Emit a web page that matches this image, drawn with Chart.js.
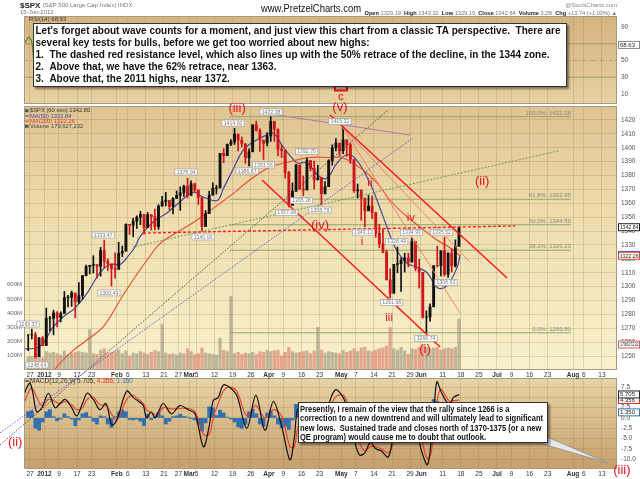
<!DOCTYPE html>
<html>
<head>
<meta charset="utf-8">
<title>$SPX 60 min - PretzelCharts</title>
<script src="https://cdn.jsdelivr.net/npm/chart.js"></script>
<style>
  html, body { margin: 0; padding: 0; background: #fff; }
  #wrap { position: relative; width: 640px; height: 479px; overflow: hidden; }
  #wrap canvas { position: absolute; left: 0; top: 0; }
</style>
</head>
<body>
<div id="wrap">
  <canvas id="rsiChart" width="640" height="479"></canvas>
  <canvas id="macdChart" width="640" height="479"></canvas>
  <canvas id="priceChart" width="640" height="479"></canvas>
</div>
<script>
// ---- data (x = trading day index, 0 = 27 Dec 2011) ----
const firstDay = -1;
const highs = [
  1265.4, 1269.4, 1267.1, 1263.5, 1264.1, 1284.6, 1278.7, 1283.1, 1282.0, 1281.9,
  1296.5, 1293.8, 1296.8, 1294.9, 1303.0, 1308.1, 1315.5, 1315.4, 1322.3, 1315.0,
  1328.3, 1333.5, 1320.1, 1316.3, 1324.4, 1332.0, 1329.2, 1345.3, 1344.4, 1349.2,
  1351.0, 1354.3, 1342.6, 1353.4, 1351.6, 1355.9, 1359.0, 1365.0, 1367.8, 1362.2,
  1364.2, 1368.9, 1371.9, 1373.1, 1378.0, 1376.2, 1374.5, 1369.6, 1364.3, 1354.9,
  1368.7, 1374.8, 1373.0, 1396.0, 1399.4, 1402.6, 1405.9, 1414.0, 1409.8, 1407.8,
  1402.9, 1399.2, 1416.6, 1419.2, 1413.7, 1405.5, 1410.9, 1422.4, 1419.0, 1413.4,
  1401.6, 1398.1, 1383.0, 1374.7, 1388.1, 1387.6, 1379.7, 1392.8, 1390.8, 1390.4,
  1387.4, 1378.5, 1375.6, 1391.4, 1402.1, 1406.6, 1403.1, 1415.3, 1405.5, 1403.1,
  1391.5, 1373.9, 1369.6, 1363.7, 1365.9, 1365.2, 1353.4, 1345.0, 1341.8, 1326.4,
  1312.9, 1316.0, 1328.5, 1320.7, 1324.1, 1324.2, 1334.9, 1332.4, 1319.7, 1310.3,
  1282.6, 1287.6, 1315.1, 1329.1, 1325.8, 1335.5, 1324.4, 1327.3, 1333.7, 1343.3
];
const lows = [
  1254.0, 1262.3, 1248.6, 1249.8, 1257.5, 1258.0, 1268.1, 1265.3, 1271.0, 1274.6,
  1281.0, 1285.4, 1285.8, 1277.6, 1287.9, 1290.9, 1307.8, 1309.2, 1309.9, 1306.1,
  1307.6, 1313.6, 1311.7, 1300.5, 1306.1, 1314.1, 1321.6, 1325.9, 1337.5, 1335.9,
  1341.9, 1344.6, 1337.8, 1344.3, 1340.8, 1340.8, 1341.2, 1358.0, 1358.1, 1355.5,
  1352.3, 1363.5, 1354.9, 1365.0, 1363.8, 1365.7, 1368.0, 1359.1, 1340.0, 1343.4,
  1352.6, 1365.9, 1366.7, 1371.1, 1389.2, 1394.3, 1401.5, 1402.4, 1397.7, 1400.6,
  1388.7, 1386.9, 1397.1, 1411.9, 1397.3, 1391.6, 1401.4, 1404.5, 1404.6, 1394.2,
  1392.9, 1378.2, 1357.4, 1358.6, 1368.7, 1369.9, 1365.4, 1369.6, 1383.3, 1370.3,
  1376.9, 1358.8, 1366.8, 1372.1, 1387.4, 1397.7, 1394.0, 1395.7, 1393.9, 1388.7,
  1367.9, 1363.9, 1347.8, 1343.1, 1354.6, 1348.9, 1335.5, 1328.0, 1324.3, 1304.9,
  1292.0, 1295.7, 1310.0, 1296.5, 1310.5, 1314.2, 1317.7, 1311.5, 1298.9, 1277.3,
  1266.7, 1275.1, 1285.5, 1314.1, 1307.8, 1307.7, 1306.6, 1310.5, 1314.1, 1329.2
];
const closes = [
  1265.3, 1265.4, 1249.6, 1263.0, 1257.6, 1277.1, 1277.3, 1281.1, 1277.8, 1280.7,
  1292.1, 1292.5, 1295.5, 1289.1, 1293.7, 1308.0, 1314.5, 1315.4, 1316.0, 1314.7,
  1326.1, 1318.4, 1316.3, 1313.0, 1312.4, 1324.1, 1325.5, 1344.9, 1344.3, 1347.1,
  1350.0, 1352.0, 1342.6, 1351.8, 1350.5, 1343.2, 1358.0, 1361.2, 1362.2, 1357.7,
  1363.5, 1365.7, 1367.6, 1372.2, 1365.7, 1374.1, 1369.6, 1364.3, 1343.4, 1352.6,
  1365.9, 1370.9, 1371.1, 1396.0, 1394.3, 1402.6, 1404.2, 1409.8, 1405.5, 1402.9,
  1392.8, 1397.1, 1416.5, 1412.5, 1405.5, 1403.3, 1408.5, 1419.0, 1413.4, 1399.0,
  1398.1, 1382.2, 1358.6, 1368.7, 1387.6, 1370.3, 1369.6, 1390.8, 1385.1, 1376.9,
  1378.5, 1366.9, 1372.0, 1390.7, 1400.0, 1403.4, 1397.9, 1405.8, 1402.3, 1391.6,
  1369.1, 1369.6, 1363.7, 1354.6, 1358.0, 1353.4, 1338.4, 1330.7, 1324.8, 1304.9,
  1295.2, 1316.0, 1316.6, 1318.9, 1320.7, 1317.8, 1332.4, 1313.3, 1310.3, 1278.0,
  1278.2, 1285.5, 1315.1, 1315.0, 1325.7, 1308.9, 1324.2, 1314.9, 1329.1, 1342.8
];
const volumes = [ // millions, typical hourly bar of the day
  90, 95, 110, 100, 85, 130, 120, 125, 115, 105,
  135, 110, 120, 125, 130, 125, 120, 285, 115, 110,
  140, 150, 120, 125, 130, 140, 115, 135, 100, 120,
  115, 130, 120, 110, 125, 140, 130, 320, 120, 110,
  115, 105, 120, 115, 150, 130, 110, 115, 155, 120,
  115, 110, 105, 225, 140, 130, 520, 115, 125, 110,
  120, 115, 125, 110, 130, 125, 140, 130, 135, 140,
  100, 125, 160, 130, 120, 125, 130, 135, 115, 135,
  300, 140, 120, 130, 125, 120, 115, 140, 125, 135,
  150, 130, 155, 160, 135, 130, 140, 150, 155, 170,
  300, 150, 140, 160, 135, 110, 150, 145, 160, 175,
  160, 150, 155, 160, 140, 150, 155, 150, 160, 360
];
const macdHist = [
  1.5, 1.7, -2.5, -3, -1, 1.5, 2, 0.3, -0.7, -0.3,
  1, 0.3, -0.3, -1.9, -0.5, 1, 1.3, 0.3, -0.8, -1.5,
  0.5, 0.3, -1.5, -2.3, 0.3, 1.5, 1.9, 1.5, -0.4, -0.5,
  -0.3, -0.8, -1.9, 0.9, -0.4, 0.3, 1.3, 0.5, -1.5, -0.8,
  0.3, 0.5, 0.9, 0.4, 0.2, -0.2, -0.5, -1.5, -3.2, -1.2,
  2.7, 2.5, 0.6, 1.9, 1.2, 0.2, -0.3, -1, -2.2, -2.5,
  -1.6, 1.5, 2.1, 1, -1.5, -2, 1.2, 1.7, 0.5, -1.5,
  -2.4, -2, -2.8, -0.5, 3.3, 3, 0.8, 1, -0.5, -1,
  -0.6, -0.8, 1, 1.5, 1.8, 1.2, -0.5, 0.3, -1.5, -2,
  -3, -2.5, -1.5, -0.5, 1, 0.8, -0.5, -1, -0.5, -0.8,
  -1, 2, 1.5, 1.5, 0.5, 0.3, 1, -1.5, -1.5, -2.5,
  -1.5, 1, 4.5, 4, -0.5, -1, -0.5, 0.5, 1, 1.35
];

const ma50Days = [-1.6, 2.8, 6.4, 9.1, 12.4, 15.7, 19.3, 22.1, 24.9, 26.8, 29, 30.4, 34, 37.8, 41.4,
  45, 47.8, 51.7, 53.3, 56, 58.8, 61.5, 64.4, 67.1, 69.9, 72.4, 73.8, 76.5, 79.6, 82,
  84.8, 87.6, 90.3, 93.9, 95.9, 98.6, 100.8, 104.1, 106.9, 109.7, 112.7, 115.2, 118, 118.8];
const ma50Vals = [1255, 1257, 1271, 1278, 1284.6, 1295, 1310, 1316, 1316, 1321, 1328.6, 1336, 1346.6, 1353, 1361,
  1368, 1364.6, 1362, 1370, 1384, 1398, 1404, 1408, 1410.6, 1400.6, 1392.6, 1389, 1389, 1380, 1378,
  1389, 1395, 1391, 1374.6, 1362, 1343, 1328.6, 1317, 1314, 1310, 1299, 1301, 1314, 1322.84];
const ma200Days = [4.5, 11, 15.7, 20.2, 24.9, 28.5, 32.3, 35.9, 40.6, 45, 48.9, 52.5, 56.1, 60.8,
  66.3, 71.8, 77.3, 82.9, 86.5, 92, 95.9, 99.4, 103, 107.7, 112.4, 116, 118.8];
const ma200Vals = [1234, 1252, 1261.6, 1271, 1290.4, 1305, 1319, 1331, 1339, 1346, 1353, 1360, 1367, 1377,
  1386, 1390, 1393, 1393, 1392.6, 1384, 1374.6, 1362.4, 1353, 1343, 1333.6, 1328, 1322.26];

const rsiDays = [-1.6, -1.0, -0.3, 0.5, 1.5, 3, 4.5, 6, 9, 12, 15, 18, 20.5, 22, 26, 30, 35, 40, 43, 47.5,
  50, 53, 56, 59, 62, 64.5, 66.5, 71, 73.5, 76.5, 80, 84, 86.5, 89.5, 92.5, 96, 99, 101.5, 105.5, 108.5,
  109.5, 112, 114.5, 116.5, 118.8];
const rsiVals = [70, 74, 78, 72, 38, 52, 70, 62, 68, 55, 72, 60, 65, 40, 72, 66, 62, 60, 65, 28,
  62, 78, 72, 45, 70, 45, 68, 22, 58, 62, 40, 66, 62, 32, 30, 33, 25, 50, 60, 28,
  25, 62, 52, 54, 68.63];

const macdDays = [-1.66, -0.8, 0, 0.8, 1.85, 3.3, 5.1, 6.9, 8.3, 9.7, 11.5, 12.9, 14.5, 15.8, 17.5,
  19.3, 21, 22.6, 24, 26.7, 28.5, 30, 31.3, 32.2, 33.5, 34.5, 35.5, 36.8, 39.1, 41.4,
  43.7, 45.6, 47.9, 49.5, 50.6, 52, 53.4, 55, 57.1, 59.9, 62.4, 64.9, 67.2, 69.5, 71.8,
  73, 74.1, 76.5, 78, 80, 82, 84.3, 86.5, 88, 89.5, 91, 92.5, 94, 95.5, 97,
  99, 100.5, 102, 104, 105.5, 107, 108.5, 109.8, 110.8, 111.6, 112.4, 113.5, 115, 116, 117, 118.6];
const macdVals = [5.6, 7.5, 8.5, 6, 1.5, 2.5, 6, 2.5, 3.5, 4.5, 2.5, 0.5, 3.5, 6, 4.5,
  2, 3.5, -1.7, -0.5, 6.5, 5, 4, 3, 0, 1.5, 0, 1.5, 3.5, 1, 3,
  2, 1, -7, -2, 4.2, 5, 8, 7.5, 5.5, -2.5, 5.5, -3, 4, -2, -10.2,
  -5, 2.5, 3, 0.5, -2, 2, 6.8, 5, 1, -5, -9, -8.5, -6, -7.5, -8,
  -9.5, -4, -2, -2.5, 0.5, -4, -9, -11.4, -6, 2, 8.8, 6.5, 4, 3.5, 5, 5.705];
const signalVals = [3.5, 5.5, 7, 7, 5, 3, 4.5, 4, 3.5, 4, 3.2, 2, 2.5, 4.5, 5,
  3.2, 3, 0.8, -0.5, 4.5, 5.5, 4.5, 3.5, 2, 1.2, 0.8, 1, 2.5, 2.2, 2.3,
  2.3, 1.5, -4, -4, 0, 3.5, 6.5, 7.5, 6.5, 0.5, 3, 0, 2, 0.5, -7,
  -7, -2, 2, 1.5, -1, 0.5, 5, 5.5, 3, -1.5, -6, -8, -7, -7, -7.5,
  -8.5, -6, -3.5, -2.5, -0.5, -2.5, -6.5, -10, -8.5, -3, 4, 7, 5, 4, 4.2, 4.356];

const tickDays = [0, 4, 8, 13, 17, 24, 27, 32, 37, 41, 44, 46, 51, 56, 61, 66, 70, 75, 80, 86, 90, 95,
  100, 105, 108, 114, 119, 124, 129, 133, 138, 143, 150, 153, 158];
const tickLabels = ['27', '2012', '9', '17', '23', 'Feb', '6', '13', '21', '27', 'Mar', '5', '12', '19', '26',
  'Apr', '9', '16', '23', 'May', '7', '14', '21', '29', 'Jun', '11', '18', '25', 'Jul', '9', '16', '23',
  'Aug', '6', '13'];
const priceTicks = [1250, 1260, 1270, 1280, 1290, 1300, 1310, 1320, 1330, 1340, 1350, 1360, 1370, 1380,
  1390, 1400, 1410, 1420];
const volTicks = [100, 200, 300, 400, 500, 600];
const rsiTicks = [10, 30, 50, 70, 90];
const macdTicks = [-10, -7.5, -5, -2.5, 0, 2.5, 5, 7.5];

// fibonacci retrace of the Apr-Jun decline
const fibNames = ['100.0%', '61.8%', '50.0%', '38.2%', '0.0%'];
const fibLevels = [1422.38, 1362.95, 1344.59, 1326.23, 1266.80];
const fibSpan = [55.2, 149.4];

// trend lines, [day, price] end points
const lineBlackDot = [[-8.29, 1186.0], [98.9, 1427.2]];
const lineBlueDot = [[-8.29, 1194.7], [105.8, 1407.0]];
const lineGreenDot = [[28.45, 1328.6], [145.9, 1397.7]];
const lineRedDash = [[31.2, 1338.6], [134.0, 1343.7]];
const linePurple = [[66.6, 1424.3], [105.0, 1409.2]];
const lineChanTop = [[82.9, 1423.6], [131.8, 1306.2]];
const lineChanLow = [[64.1, 1376.8], [113.3, 1256.6]];
const lineFanA = [[86.5, 1414.2], [118.8, 1281.0]];
const lineFanB = [[86.5, 1414.2], [121.5, 1317.8]];

// swing-point tags [day, price, text]
const priceTags = [
  [-0.55, 1273.1, '1269.37'], [1.93, 1243.6, '1248.64'], [20.2, 1337.2, '1333.47'], [21.8, 1295.5, '1300.49'],
  [43.1, 1382.6, '1378.04'], [47.8, 1335.8, '1340.03'], [56.1, 1417.8, '1414.00'], [60.0, 1383.3, '1386.87'],
  [64.5, 1387.6, '1391.56'], [66.6, 1425.8, '1422.38'], [70.9, 1353.3, '1357.38'], [75.0, 1362.0, '1365.38'],
  [76.4, 1397.2, '1392.76'], [80.1, 1355.2, '1358.79'], [85.6, 1418.8, '1415.32'], [92.1, 1339.2, '1343.13'],
  [99.9, 1288.5, '1291.98'], [101.3, 1332.4, '1328.49'], [105.4, 1339.0, '1334.93'], [109.4, 1262.8, '1266.74'],
  [113.7, 1339.2, '1335.52'], [114.9, 1302.9, '1306.62']
];
// wave count [day, price, text]
const waveBig = [[57.2, 1428.6, '(iii)'], [85.6, 1429.4, '(v)'], [80.1, 1344.4, '(iv)'], [109.1, 1255.1, '(i)'],
  [124.9, 1376.1, '(ii)'], [-4.1, 1187.5, '(ii)'], [163.5, 1168.0, '(iii)']];
const waveSmall = [[93.9, 1374.6, 'ii'], [91.7, 1332.2, 'i'], [105.2, 1349.4, 'iv'], [99.2, 1277.4, 'iii'],
  [85.9, 1436.6, 'c']];

const noteTop = [
  "Let's forget about wave counts for a moment, and just view this chart from a classic TA perspective.  There are",
  "several key tests for bulls, before we get too worried about new highs:",
  "1.  The dashed red resistance level, which also lines up with the 50% retrace of the decline, in the 1344 zone.",
  "2.  Above that, we have the 62% retrace, near 1363.",
  "3.  Above that, the 2011 highs, near 1372."
];
const noteBottom = [
  "Presently, I remain of the view that the rally since 1266 is a",
  "correction to a new downtrend and will ultimately lead to significant",
  "new lows.  Sustained trade and closes north of 1370-1375 (or a new",
  "QE program) would cause me to doubt that outlook."
];

// ---- helpers ----
const FONT = "'Liberation Sans', Arial, sans-serif";
Chart.defaults.font.family = FONT;
const gridColor = 'rgba(140,110,60,0.22)';
const dayX = closes.map((_, i) => firstDay + i + 0.5);
const upDay = closes.map((c, i) => i === 0 || c >= closes[i - 1]);
const pts = (xs, ys) => xs.map((x, i) => ({ x: x, y: ys[i] }));
const seg = p => p.map(q => ({ x: q[0], y: q[1] }));

function xScale(labels) {
  return {
    type: 'linear', min: -1.657, max: 162.15, offset: false,
    afterBuildTicks: s => { s.ticks = tickDays.map(v => ({ value: v })); },
    afterFit: s => { s.height = labels ? 9 : 0; },
    grid: { color: gridColor, drawTicks: false, offset: false },
    border: { display: false },
    ticks: {
      display: labels, autoSkip: false, maxRotation: 0, minRotation: 0, padding: 1.5, color: '#333',
      font: c => ({ size: 6.5, weight: /[A-Za-z]|2012/.test(tickLabels[c.index] || '') ? 'bold' : 'normal' }),
      callback: (v, i) => tickLabels[i]
    }
  };
}
function rightAxis(min, max, ticks, fmt, grid) {
  return {
    position: 'right', min: min, max: max, beginAtZero: false,
    afterBuildTicks: s => { s.ticks = ticks.map(v => ({ value: v })); },
    afterFit: s => { s.width = 23; },
    grid: { display: grid, color: gridColor, drawTicks: false },
    border: { display: false },
    ticks: { padding: 4, color: '#555', font: { size: 6.5 }, callback: fmt }
  };
}
function panel(stops) {
  return {
    id: 'panel',
    beforeDraw(chart) {
      const { ctx, chartArea: a } = chart;
      const g = ctx.createLinearGradient(0, a.top, 0, a.bottom);
      stops.forEach(s => g.addColorStop(s[0], s[1]));
      ctx.save(); ctx.fillStyle = g; ctx.fillRect(a.left, a.top, a.width, a.height); ctx.restore();
    },
    afterDatasetsDraw(chart) {
      const { ctx, chartArea: a } = chart;
      ctx.save(); ctx.strokeStyle = '#a89a80'; ctx.lineWidth = 1;
      ctx.strokeRect(a.left + 0.5, a.top + 0.5, a.width - 1, a.height - 1); ctx.restore();
    }
  };
}
function valueBox(ctx, y, text, border) {
  ctx.save();
  ctx.fillStyle = '#fff'; ctx.fillRect(618.5, y - 3.5, 21, 7);
  ctx.strokeStyle = border; ctx.lineWidth = 1; ctx.strokeRect(618.5, y - 3.5, 21, 7);
  ctx.font = '6px ' + FONT; ctx.fillStyle = '#222'; ctx.textBaseline = 'middle';
  ctx.fillText(text, 620, y + 0.3, 18.5);
  ctx.restore();
}
function tag(ctx, x, y, text) {
  ctx.font = '5.2px ' + FONT;
  const w = ctx.measureText(text).width + 3.5;
  ctx.fillStyle = '#fff'; ctx.strokeStyle = '#a0a0a0'; ctx.lineWidth = 0.7;
  ctx.fillRect(x - w / 2, y - 3, w, 6); ctx.strokeRect(x - w / 2, y - 3, w, 6);
  ctx.fillStyle = '#777'; ctx.textAlign = 'center'; ctx.textBaseline = 'middle';
  ctx.fillText(text, x, y + 0.3);
}
function note(ctx, r, lines, size, x0, y0, lh, fitLine, fitW) {
  ctx.save();
  ctx.shadowColor = 'rgba(0,0,0,0.45)'; ctx.shadowOffsetX = 2; ctx.shadowOffsetY = 2; ctx.shadowBlur = 2;
  ctx.fillStyle = '#fff'; ctx.fillRect(r[0], r[1], r[2] - r[0], r[3] - r[1]);
  ctx.restore();
  ctx.save();
  ctx.strokeStyle = '#333'; ctx.lineWidth = 1;
  ctx.strokeRect(r[0] + 0.5, r[1] + 0.5, r[2] - r[0] - 1, r[3] - r[1] - 1);
  ctx.font = 'bold ' + size + 'px ' + FONT;
  const sx = Math.min(1, fitW / ctx.measureText(lines[fitLine]).width);
  ctx.fillStyle = '#111'; ctx.textBaseline = 'middle'; ctx.textAlign = 'left';
  lines.forEach((l, i) => {
    ctx.save(); ctx.translate(x0, y0 + i * lh); ctx.scale(sx, 1); ctx.fillText(l, 0, 0); ctx.restore();
  });
  ctx.restore();
}

// ---- RSI panel ----
new Chart(document.getElementById('rsiChart'), {
  type: 'line',
  data: {
    datasets: [
      { data: pts(rsiDays, rsiVals), borderColor: '#5f842a', borderWidth: 1.2, pointRadius: 0, tension: 0.3 },
      { data: seg([[-1.657, 70], [162.15, 70]]), borderColor: '#9a9a66', borderWidth: 1, pointRadius: 0 },
      { data: seg([[-1.657, 30], [162.15, 30]]), borderColor: '#9a9a66', borderWidth: 1, pointRadius: 0 },
      { data: seg([[-1.657, 50], [162.15, 50]]), borderColor: '#9a9a66', borderWidth: 0.8, borderDash: [4, 2, 1, 2], pointRadius: 0 }
    ]
  },
  options: {
    responsive: false, animation: false, events: [],
    layout: { padding: { left: 24, right: 0, top: 16, bottom: 375 } },
    plugins: { legend: { display: false }, tooltip: { enabled: false } },
    scales: { x: xScale(false), y: rightAxis(-2.1, 103.3, rsiTicks, v => v, false) }
  },
  plugins: [panel([[0, '#d5b481'], [1, '#e7d1a2']]), {
    id: 'rsiNotes',
    afterDraw(chart) {
      const { ctx } = chart;
      ctx.save();
      ctx.font = '6px ' + FONT; ctx.fillStyle = '#333'; ctx.textBaseline = 'middle';
      ctx.fillText('RSI(14) ' + rsiVals[rsiVals.length - 1], 29, 19.5);
      ctx.restore();
      valueBox(ctx, chart.scales.y.getPixelForValue(rsiVals[rsiVals.length - 1]), String(rsiVals[rsiVals.length - 1]), '#888');
    }
  }]
});

// ---- MACD panel ----
new Chart(document.getElementById('macdChart'), {
  type: 'bar',
  data: {
    datasets: [
      { type: 'line', data: pts(macdDays, signalVals), borderColor: '#f03a24', borderWidth: 1.1, pointRadius: 0, tension: 0.35, order: 2 },
      { type: 'line', data: pts(macdDays, macdVals), borderColor: '#111', borderWidth: 1.2, pointRadius: 0, tension: 0.35, order: 1 },
      { type: 'bar', data: pts(dayX, macdHist), backgroundColor: '#3070b0', barThickness: 3.2, grouped: false, order: 5 }
    ]
  },
  options: {
    responsive: false, animation: false, events: [],
    layout: { padding: { left: 24, right: 0, top: 378, bottom: 1 } },
    plugins: { legend: { display: false }, tooltip: { enabled: false } },
    scales: { x: xScale(true), y: rightAxis(-12.43, 9.71, macdTicks, v => v.toFixed(1), true) }
  },
  plugins: [panel([[0, '#e8d4a6'], [1, '#c6a06d']]), {
    id: 'macdNotes',
    afterDraw(chart) {
      const { ctx } = chart;
      const Y = v => chart.scales.y.getPixelForValue(v);
      const m = macdVals[macdVals.length - 1], s = signalVals[signalVals.length - 1], h = macdHist[macdHist.length - 1];
      ctx.save();
      ctx.font = '6.5px ' + FONT; ctx.textBaseline = 'middle';
      ctx.strokeStyle = '#111'; ctx.beginPath(); ctx.moveTo(25, 381); ctx.lineTo(29, 381); ctx.stroke();
      let x = 30;
      [['MACD(12,26,9) ' + m.toFixed(3) + ', ', '#333'], [s.toFixed(3) + ', ', '#e03020'], [h.toFixed(3), '#3a78b8']].forEach(p => {
        ctx.fillStyle = p[1]; ctx.fillText(p[0], x, 381); x += ctx.measureText(p[0]).width;
      });
      ctx.restore();
      valueBox(ctx, Y(h), h.toFixed(3), '#3a78b8');
      valueBox(ctx, Y(s), s.toFixed(3), '#e03020');
      valueBox(ctx, Y(m), m.toFixed(3), '#222');
    }
  }]
});

// ---- price panel ----
const candleColor = upDay.map(u => u ? '#111' : '#d0141a');
const trendSet = (p, color, width, dash) => ({
  type: 'line', data: seg(p), borderColor: color, borderWidth: width, borderDash: dash || [],
  pointRadius: 0, clip: false, order: 1, yAxisID: 'y'
});
const priceSets = [
  { type: 'bar', yAxisID: 'yVol', data: pts(dayX, volumes), barThickness: 2.6, grouped: false, order: 10,
    backgroundColor: upDay.map(u => u ? 'rgba(135,125,105,0.5)' : 'rgba(214,108,92,0.55)') },
  ...fibLevels.map(l => ({ type: 'line', yAxisID: 'y', data: seg([[fibSpan[0], l], [fibSpan[1], l]]),
    borderColor: '#8fa866', borderWidth: 1, pointRadius: 0, order: 8 })),
  { type: 'line', yAxisID: 'y', data: pts(ma200Days, ma200Vals), borderColor: '#ee4a30', borderWidth: 1.1, pointRadius: 0, tension: 0.4, order: 6 },
  { type: 'line', yAxisID: 'y', data: pts(ma50Days, ma50Vals), borderColor: '#45459a', borderWidth: 1.2, pointRadius: 0, tension: 0.4, order: 6 },
  { type: 'bar', yAxisID: 'y', data: dayX.map((x, i) => ({ x: x, y: [lows[i], highs[i]] })), backgroundColor: candleColor, barThickness: 1, grouped: false, order: 4 },
  { type: 'bar', yAxisID: 'y', data: dayX.map((x, i) => ({ x: x, y: [i ? closes[i - 1] : closes[i], closes[i]] })), backgroundColor: candleColor, barThickness: 2.2, grouped: false, order: 3 },
  trendSet(lineBlackDot, '#333', 0.8, [1.5, 1.5]),
  trendSet(lineBlueDot, '#3b3bdf', 0.8, [1.5, 1.5]),
  trendSet(lineGreenDot, '#5c9a3a', 0.9, [2, 1.5]),
  trendSet(linePurple, '#b07aa8', 1),
  trendSet(lineFanA, '#f07a68', 0.9),
  trendSet(lineFanB, '#f07a68', 0.9),
  trendSet(lineChanLow, '#ff1a1a', 1.5),
  trendSet(lineChanTop, '#ff1a1a', 1.5),
  trendSet(lineRedDash, '#ff2020', 1.4, [3, 2])
];

new Chart(document.getElementById('priceChart'), {
  type: 'bar',
  data: { datasets: priceSets },
  options: {
    responsive: false, animation: false, events: [],
    layout: { padding: { left: 0, right: 0, top: 106, bottom: 100 } },
    plugins: { legend: { display: false }, tooltip: { enabled: false } },
    scales: {
      x: xScale(true),
      y: rightAxis(1240, 1430.08, priceTicks, v => v, true),
      yVol: {
        position: 'left', min: 0, max: 1860,
        afterBuildTicks: s => { s.ticks = volTicks.map(v => ({ value: v })); },
        afterFit: s => { s.width = 24; },
        grid: { display: false, drawTicks: false }, border: { display: false },
        ticks: { padding: 2, color: '#666', font: { size: 6 }, callback: v => v + 'M' }
      }
    }
  },
  plugins: [panel([[0, '#dfc393'], [0.4, '#eedcae'], [1, '#f8f1cc']]), {
    id: 'priceNotes',
    afterDraw(chart) {
      const { ctx } = chart;
      const X = v => chart.scales.x.getPixelForValue(v);
      const Y = v => chart.scales.y.getPixelForValue(v);
      const last = closes.length - 1;
      ctx.save();
      // fib labels
      ctx.font = '6px ' + FONT; ctx.fillStyle = '#8a8a78'; ctx.textAlign = 'right'; ctx.textBaseline = 'bottom';
      fibLevels.forEach((l, i) => ctx.fillText(fibNames[i] + ': ' + l.toFixed(2), X(fibSpan[1]), Y(l) - 0.5));
      // swing tags
      priceTags.forEach(t => tag(ctx, X(t[0]), Y(t[1]), t[2]));
      // wave labels
      ctx.fillStyle = '#e8101a'; ctx.textAlign = 'center'; ctx.textBaseline = 'middle';
      ctx.font = '13px ' + FONT;
      waveBig.forEach(w => ctx.fillText(w[2], X(w[0]), Y(w[1])));
      ctx.font = '11.5px ' + FONT;
      waveSmall.forEach(w => ctx.fillText(w[2], X(w[0]), Y(w[1])));
      const cw = waveSmall[waveSmall.length - 1];
      ctx.strokeStyle = '#e8101a'; ctx.lineWidth = 2;
      ctx.beginPath();
      ctx.moveTo(X(cw[0]) - 6, Y(cw[1]) - 12); ctx.lineTo(X(cw[0]) - 6, Y(cw[1]) - 6.5);
      ctx.lineTo(X(cw[0]) + 6, Y(cw[1]) - 6.5); ctx.lineTo(X(cw[0]) + 6, Y(cw[1]) - 12);
      ctx.stroke();
      // legend
      ctx.textAlign = 'left'; ctx.textBaseline = 'middle'; ctx.font = '5.8px ' + FONT; ctx.lineWidth = 1;
      const leg = [['$SPX (60 min) ' + closes[last].toFixed(2), '#333', null],
        ['MA(50) ' + ma50Vals[ma50Vals.length - 1].toFixed(2), '#4a4a9c', '#4a4a9c'],
        ['MA(200) ' + ma200Vals[ma200Vals.length - 1].toFixed(2), '#e04030', '#e04030'],
        ['Volume 179,627,232', '#444', null]];
      leg.forEach((l, i) => {
        const y = 110.7 + i * 5.2;
        if (l[2]) { ctx.strokeStyle = l[2]; ctx.beginPath(); ctx.moveTo(25, y); ctx.lineTo(29, y); ctx.stroke(); }
        else { ctx.fillStyle = '#555'; ctx.fillRect(25, y - 1.5, 3.5, 3); }
        ctx.fillStyle = l[1]; ctx.fillText(l[0], 30, y);
      });
      ctx.restore();
      // right-hand value boxes
      valueBox(ctx, chart.scales.yVol.getPixelForValue(179.6), '179627232', '#d06060');
      valueBox(ctx, Y(ma50Vals[ma50Vals.length - 1]), ma50Vals[ma50Vals.length - 1].toFixed(2), '#4a4a9c');
      valueBox(ctx, Y(ma200Vals[ma200Vals.length - 1]), ma200Vals[ma200Vals.length - 1].toFixed(2), '#e04030');
      valueBox(ctx, Y(closes[last]), '1342.84', '#222');
      // header
      ctx.save();
      ctx.textBaseline = 'middle'; ctx.textAlign = 'left';
      ctx.font = 'bold 8px ' + FONT; ctx.fillStyle = '#222'; ctx.fillText('$SPX', 20, 5.5);
      let hx = 20 + ctx.measureText('$SPX ').width;
      ctx.font = '6px ' + FONT; ctx.fillStyle = '#777'; ctx.fillText('(S&P 500 Large Cap Index) INDX', hx, 5.5);
      ctx.fillText('15-Jun-2012', 20, 12);
      ctx.font = '10px ' + FONT; ctx.fillStyle = '#111';
      const site = 'www.PretzelCharts.com';
      ctx.save(); ctx.translate(261, 9.5); ctx.scale(Math.min(1, 100 / ctx.measureText(site).width), 1); ctx.fillText(site, 0, 0); ctx.restore();
      const ohlc = [['Open', 1], [' 1329.19  ', 0], ['High', 1], [' 1343.32  ', 0], ['Low', 1], [' 1329.19  ', 0],
        ['Close', 1], [' 1342.84  ', 0], ['Volume', 1], [' 3.2B  ', 0], ['Chg', 1], [' +13.74 (+1.03%) \u25B2', 0]];
      let tw = 0;
      ohlc.forEach(p => { ctx.font = (p[1] ? 'bold ' : '') + '6px ' + FONT; tw += ctx.measureText(p[0]).width; });
      ctx.save(); ctx.translate(364.5, 13); ctx.scale(Math.min(1, 252.5 / tw), 1);
      let ox = 0;
      ohlc.forEach(p => {
        ctx.font = (p[1] ? 'bold ' : '') + '6px ' + FONT; ctx.fillStyle = p[1] ? '#222' : '#777';
        ctx.fillText(p[0], ox, 0); ox += ctx.measureText(p[0]).width;
      });
      ctx.restore();
      ctx.font = '6px ' + FONT; ctx.fillStyle = '#888'; ctx.textAlign = 'right';
      ctx.fillText('@StockCharts.com', 617, 5);
      ctx.restore();
      // comment boxes
      ctx.save();
      ctx.fillStyle = '#e8e8e8'; ctx.strokeStyle = '#8a8a8a'; ctx.lineWidth = 0.8;
      ctx.beginPath(); ctx.moveTo(536, 442); ctx.lineTo(547, 437); ctx.lineTo(608, 463); ctx.closePath();
      ctx.fill(); ctx.stroke();
      ctx.restore();
      note(ctx, [33, 23, 567, 87], noteTop, 10.5, 35.5, 31.5, 11.8, 0, 525);
      note(ctx, [298, 402, 548, 443], noteBottom, 9.5, 300, 409, 9.6, 1, 243);
    }
  }]
});
</script>
</body>
</html>
